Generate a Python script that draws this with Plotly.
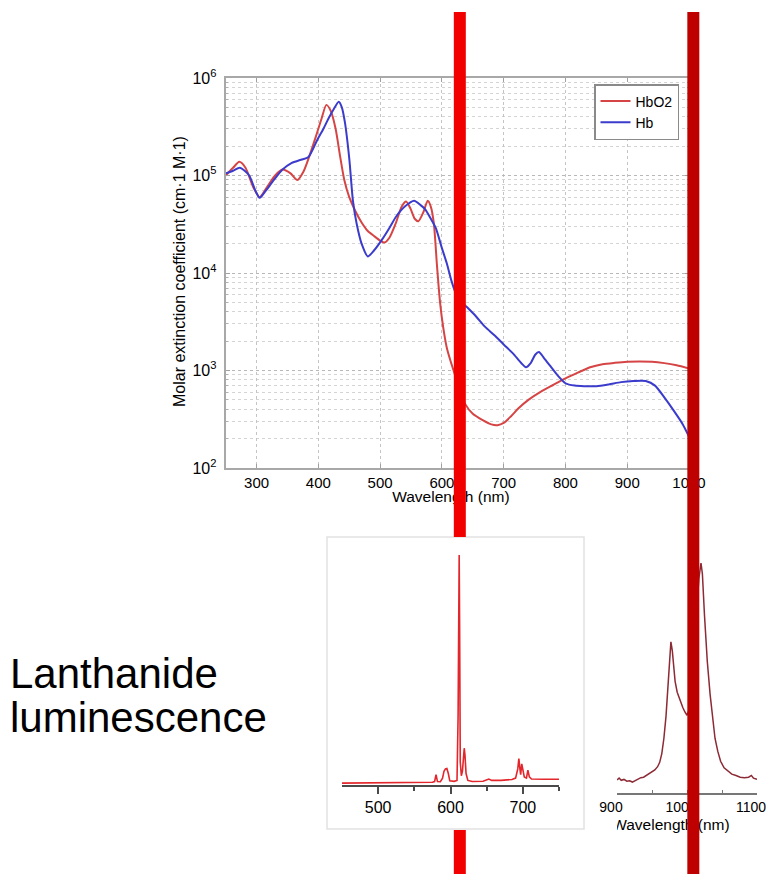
import plotly.graph_objects as go

# ---------------- data ----------------
# Top chart: molar extinction coefficient of HbO2 / Hb
hbo2_wl = [250, 262, 272, 282, 295, 305, 318, 330, 342, 355, 366, 376, 385, 395, 405, 413, 420, 428,
           435, 442, 450, 460, 470, 480, 490, 500, 507, 515, 525, 535, 542, 549, 556, 562, 570, 577,
           582, 587, 592, 597, 602, 608, 614, 620, 628, 637, 650, 666, 680, 690, 700, 712, 724, 740,
           759, 780, 800, 820, 840, 860, 880, 900, 920, 940, 960, 980, 1000]
hbo2_val = [1.0e5, 1.2e5, 1.38e5, 1.2e5, 7.5e4, 6.0e4, 7.8e4, 1.0e5, 1.15e5, 1.05e5, 9.0e4, 1.1e5,
            1.55e5, 2.4e5, 3.8e5, 5.3e5, 4.6e5, 3.0e5, 1.6e5, 9.0e4, 6.0e4, 4.3e4, 3.3e4, 2.7e4,
            2.4e4, 2.15e4, 2.05e4, 2.3e4, 3.2e4, 4.8e4, 5.4e4, 4.6e4, 3.6e4, 3.4e4, 4.2e4, 5.5e4,
            4.8e4, 3.2e4, 1.2e4, 5.0e3, 2.8e3, 1.7e3, 1.25e3, 9.5e2, 6.5e2, 4.6e2, 3.6e2, 3.1e2,
            2.8e2, 2.75e2, 2.9e2, 3.4e2, 4.1e2, 5.0e2, 6.0e2, 7.1e2, 8.3e2, 9.5e2, 1.08e3, 1.16e3,
            1.2e3, 1.23e3, 1.24e3, 1.23e3, 1.19e3, 1.13e3, 1.05e3]

hb_wl = [250, 262, 273, 288, 298, 305, 315, 328, 342, 357, 372, 384, 398, 408, 416, 425, 433, 438,
         443, 450, 456, 462, 470, 480, 490, 503, 515, 526, 540, 555, 565, 573, 582, 590, 600, 608,
         615, 622, 630, 640, 655, 670, 685, 700, 715, 728, 736, 744, 751, 757, 765, 776, 788, 800,
         815, 830, 850, 870, 890, 910, 930, 945, 960, 975, 990, 1000]
hb_val = [1.05e5, 1.12e5, 1.2e5, 1.0e5, 7.0e4, 5.9e4, 7.0e4, 9.0e4, 1.15e5, 1.35e5, 1.45e5, 1.55e5,
          2.3e5, 3.0e5, 3.8e5, 4.8e5, 5.7e5, 5.0e5, 3.5e5, 1.5e5, 5.5e4, 3.2e4, 2.0e4, 1.48e4,
          1.7e4, 2.2e4, 2.9e4, 3.8e4, 4.8e4, 5.5e4, 5.0e4, 4.5e4, 3.6e4, 2.9e4, 1.8e4, 1.25e4,
          8.5e3, 6.3e3, 5.2e3, 4.5e3, 3.6e3, 2.8e3, 2.3e3, 1.85e3, 1.5e3, 1.2e3, 1.08e3, 1.2e3,
          1.45e3, 1.55e3, 1.35e3, 1.1e3, 8.8e2, 7.4e2, 7.0e2, 6.9e2, 6.9e2, 7.2e2, 7.6e2, 7.8e2,
          7.8e2, 7.0e2, 5.3e2, 3.9e2, 2.8e2, 2.1e2]

y_tick_vals = [1e2, 1e3, 1e4, 1e5, 1e6]
y_tick_text = ["10<sup>2</sup>", "10<sup>3</sup>", "10<sup>4</sup>", "10<sup>5</sup>", "10<sup>6</sup>"]
x_tick_vals = [300, 400, 500, 600, 700, 800, 900, 1000]

# Bottom-left inset: Eu-type emission spectrum (a.u.)
eu_wl = [450, 480, 520, 560, 575, 578, 580, 582, 586, 589, 591, 593, 595, 597, 599, 605, 609,
         610.5, 611.5, 612, 612.6, 613.5, 615, 616.5, 618, 619, 620, 621.5, 624, 630, 645, 650,
         653, 657, 670, 685, 690, 693, 694.5, 696, 697, 698.5, 700, 702, 705, 707, 709, 712, 730, 750]
eu_int = [0.008, 0.009, 0.010, 0.011, 0.012, 0.015, 0.045, 0.015, 0.014, 0.03, 0.06, 0.07, 0.072,
          0.05, 0.018, 0.016, 0.02, 0.3, 0.85, 1.0, 0.7, 0.1, 0.04, 0.06, 0.12, 0.16, 0.13, 0.05,
          0.02, 0.015, 0.016, 0.022, 0.026, 0.02, 0.02, 0.024, 0.03, 0.07, 0.115, 0.07, 0.045,
          0.092, 0.06, 0.035, 0.03, 0.065, 0.035, 0.026, 0.025, 0.025]
eu_tick_vals = [500, 600, 700]

# Bottom-right inset: Yb-type NIR emission (a.u.)
yb_wl = [900, 903, 906, 910, 914, 918, 922, 926, 930, 934, 938, 942, 946, 950, 954, 958, 961, 964,
         967, 970, 973, 975, 977, 979, 981, 983, 986, 990, 994, 997, 1000, 1003, 1006, 1010, 1014,
         1017, 1020, 1022, 1025, 1029, 1033, 1037, 1040, 1044, 1048, 1053, 1058, 1064, 1070, 1076,
         1082, 1088, 1092, 1095, 1100]
yb_int = [0.01, 0.018, 0.008, 0.012, 0.004, 0.006, 0.0, 0.008, 0.012, 0.02, 0.022, 0.03, 0.04,
          0.045, 0.055, 0.07, 0.09, 0.13, 0.2, 0.3, 0.43, 0.55, 0.64, 0.6, 0.53, 0.46, 0.41, 0.37,
          0.34, 0.32, 0.305, 0.33, 0.42, 0.6, 0.8, 0.93, 1.0, 0.95, 0.76, 0.55, 0.4, 0.27, 0.2,
          0.14, 0.095, 0.065, 0.05, 0.036, 0.03, 0.022, 0.02, 0.022, 0.03, 0.018, 0.012]
yb_tick_vals = [900, 1000, 1100]

# Highlighted wavelengths (vertical red bars), in nm of the top chart's axis
bar_wl = [629, 1007]
bar_colors = ["#f20000", "#bf0000"]

# ---------------- layout helpers ----------------
W, H = 768, 874
FONT = "Arial, 'Liberation Sans', sans-serif"

TOP_X0, TOP_X1 = 225.7, 689.0      # pixel extent of the top chart's plot area
TOP_RANGE = [250, 1000]


def px(x):
    return x / W


def py(y):
    return 1 - y / H


def nm_to_paper(nm):
    return px(TOP_X0 + (nm - TOP_RANGE[0]) * (TOP_X1 - TOP_X0) / (TOP_RANGE[1] - TOP_RANGE[0]))


fig = go.Figure()

# top chart traces
fig.add_trace(go.Scatter(x=hbo2_wl, y=hbo2_val, mode="lines", name="HbO2",
                         line=dict(color="#d64545", width=2, shape="spline", smoothing=0.7),
                         xaxis="x", yaxis="y"))
fig.add_trace(go.Scatter(x=hb_wl, y=hb_val, mode="lines", name="Hb",
                         line=dict(color="#3b3bcc", width=2, shape="spline", smoothing=0.7),
                         xaxis="x", yaxis="y"))

# bottom-left inset
fig.add_trace(go.Scatter(x=eu_wl, y=eu_int, mode="lines", showlegend=False,
                         line=dict(color="#e3262c", width=1.6),
                         xaxis="x2", yaxis="y2"))

# bottom-right inset
fig.add_trace(go.Scatter(x=yb_wl, y=yb_int, mode="lines", showlegend=False,
                         line=dict(color="#8c2a35", width=1.5),
                         xaxis="x3", yaxis="y3"))

# x-axis titles drawn as text in thin helper subplots, so the red bars pass over them
fig.add_trace(go.Scatter(x=[614.6], y=[0.5], mode="text", text=["Wavelength (nm)"],
                         textfont=dict(family=FONT, size=15.5, color="black"),
                         showlegend=False, hoverinfo="skip", xaxis="x4", yaxis="y4"))
fig.add_trace(go.Scatter(x=[977], y=[0.5], mode="text", text=["Wavelength (nm)"],
                         textfont=dict(family=FONT, size=15.5, color="black"),
                         showlegend=False, hoverinfo="skip", xaxis="x5", yaxis="y5"))

minor_log = [k * 10 ** e for e in range(2, 6) for k in range(2, 10)]
hidden = dict(visible=False, automargin=False, showgrid=False, zeroline=False, fixedrange=True)

fig.update_layout(
    width=W, height=H,
    margin=dict(l=0, r=0, t=0, b=0, pad=0),
    autosize=False,
    paper_bgcolor="white", plot_bgcolor="rgba(0,0,0,0)",
    font=dict(family=FONT, color="black"),
    showlegend=True,
    legend=dict(x=px(594), y=py(84), xanchor="left", yanchor="top",
                bgcolor="white", bordercolor="#8a8a8a", borderwidth=1.5,
                font=dict(size=14, family=FONT), tracegroupgap=0, itemwidth=30),
    xaxis=dict(domain=[px(TOP_X0), px(TOP_X1)], range=TOP_RANGE, anchor="y", automargin=False,
               tickvals=x_tick_vals, ticks="inside", ticklen=4, tickcolor="#a0a0a0",
               showline=True, linecolor="#a8a8a8", linewidth=2, mirror="ticks",
               showgrid=True, gridcolor="#c4c4c4", griddash="dot", gridwidth=1,
               zeroline=False, tickfont=dict(size=15), ticklabelstandoff=0),
    yaxis=dict(domain=[py(468), py(78)], type="log", range=[2, 6], anchor="x", automargin=False,
               tickvals=y_tick_vals, ticktext=y_tick_text,
               ticks="inside", ticklen=4, tickcolor="#a0a0a0",
               showline=True, linecolor="#a8a8a8", linewidth=2, mirror="ticks",
               showgrid=True, gridcolor="#b8b8b8", griddash="dot", gridwidth=1,
               minor=dict(tickvals=minor_log, showgrid=True, gridcolor="#d4d4d4",
                          griddash="dot", ticks="inside", ticklen=2, tickcolor="#b0b0b0"),
               zeroline=False, tickfont=dict(size=16), ticklabelstandoff=4),
    xaxis2=dict(domain=[px(342), px(559)], range=[450, 750], anchor="y2", automargin=False,
                tickvals=eu_tick_vals, ticks="outside", ticklen=7, tickwidth=2,
                tickcolor="#4a4a4a", showline=True, linecolor="#4a4a4a", linewidth=2,
                minor=dict(tickvals=[550, 650, 750], ticks="outside", ticklen=4,
                           tickwidth=2, tickcolor="#4a4a4a"),
                showgrid=False, zeroline=False, tickfont=dict(size=16)),
    yaxis2=dict(domain=[py(785), py(555)], range=[0, 1], anchor="x2", **hidden),
    xaxis3=dict(domain=[px(617), px(757)], range=[900, 1100], anchor="y3", automargin=False,
                tickvals=yb_tick_vals,
                ticks="inside", ticklen=3, tickwidth=1,
                tickcolor="#777777", showline=True, linecolor="#777777", linewidth=1.5,
                minor=dict(tickvals=[950, 1050], ticks="inside", ticklen=3, tickcolor="#777777"),
                showgrid=False, zeroline=False, tickfont=dict(size=14),
                ticklabelshift=-6, ticklabeloverflow="allow", ticklabelstandoff=0),
    yaxis3=dict(domain=[py(793), py(560)], range=[-0.05, 1.0137], anchor="x3", **hidden),
    # helper subplots for the two x-axis titles
    xaxis4=dict(domain=[px(TOP_X0), px(TOP_X1)], range=TOP_RANGE, anchor="y4", **hidden),
    yaxis4=dict(domain=[py(510), py(486)], range=[0, 1], anchor="x4", **hidden),
    xaxis5=dict(domain=[px(617), px(757)], range=[900, 1100], anchor="y5", **hidden),
    yaxis5=dict(domain=[py(838), py(814)], range=[0, 1], anchor="x5", **hidden),
)

shapes = []
# inset frame (white box, drawn under traces)
shapes.append(dict(type="rect", xref="paper", yref="paper",
                   x0=px(327), x1=px(584), y0=py(829), y1=py(537),
                   line=dict(color="#e2e2e2", width=1.5), fillcolor="white", layer="below"))
# left bar (interrupted by the inset box)
for (ya, yb) in [(12, 537), (830, 874)]:
    xb = nm_to_paper(bar_wl[0])
    shapes.append(dict(type="line", xref="paper", yref="paper", x0=xb, x1=xb,
                       y0=py(yb), y1=py(ya), line=dict(color=bar_colors[0], width=12),
                       layer="above"))
# right bar
xb = nm_to_paper(bar_wl[1])
shapes.append(dict(type="line", xref="paper", yref="paper", x0=xb, x1=xb,
                   y0=py(874), y1=py(12), line=dict(color=bar_colors[1], width=12), layer="above"))
fig.update_layout(shapes=shapes)

annotations = [
    dict(text="Molar extinction coefficient (cm·1 M·1)", textangle=-90,
         x=px(179), y=py(272), xref="paper", yref="paper", showarrow=False,
         xanchor="center", yanchor="middle", font=dict(size=16, family=FONT)),
    dict(text="Lanthanide", x=px(8), y=py(673.4), xref="paper", yref="paper",
         showarrow=False, xanchor="left", yanchor="middle", font=dict(size=42, family=FONT)),
    dict(text="luminescence", x=px(8), y=py(717), xref="paper", yref="paper",
         showarrow=False, xanchor="left", yanchor="middle", font=dict(size=42, family=FONT)),
]
fig.update_layout(annotations=annotations)

fig.write_html("out.html")
